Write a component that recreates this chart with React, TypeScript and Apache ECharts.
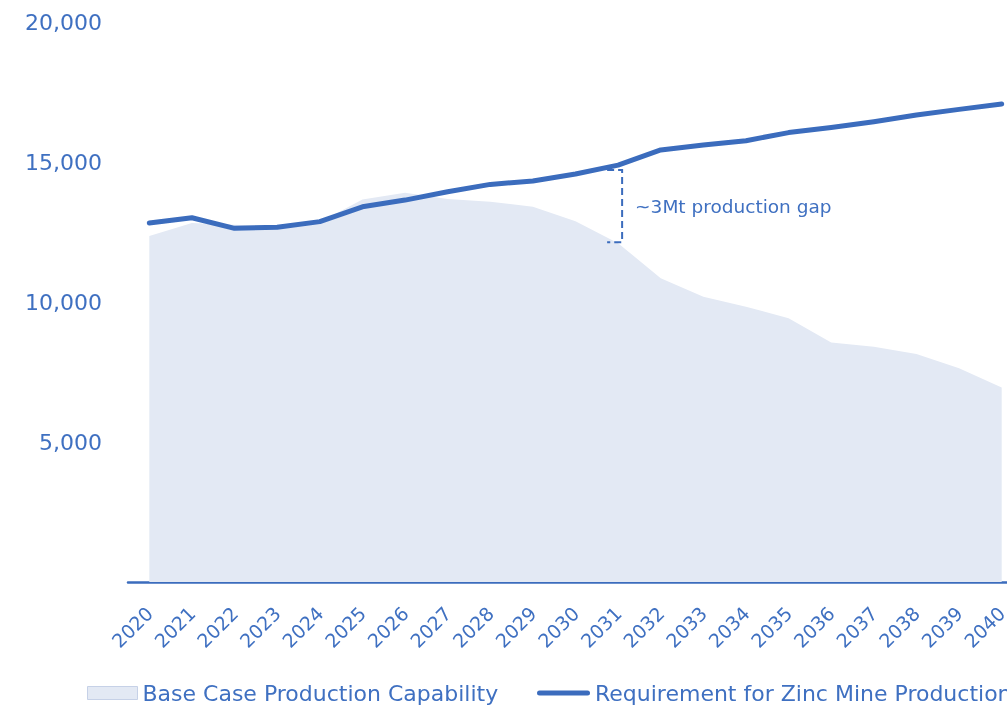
import React, { useEffect, useRef } from "react";
import * as echarts from "echarts";

const years = [
  "2020", "2021", "2022", "2023", "2024", "2025", "2026", "2027", "2028", "2029", "2030",
  "2031", "2032", "2033", "2034", "2035", "2036", "2037", "2038", "2039", "2040",
];
const baseCase = [
  12360, 12820, 12760, 12700, 12850, 13660, 13900, 13680, 13580, 13400, 12880,
  12100, 10850, 10190, 9830, 9420, 8550, 8400, 8140, 7630, 6950,
];
const requirement = [
  12820, 13010, 12630, 12670, 12870, 13400, 13640, 13940, 14200, 14320, 14570,
  14890, 15430, 15610, 15760, 16050, 16230, 16440, 16680, 16880, 17070,
];
const yTicks = [0, 5000, 10000, 15000, 20000];
const seriesNames = ["Base Case Production Capability", "Requirement for Zinc Mine Production"];
const gapLabel = "~3Mt production gap";
const gapYearIndex = 11;

const BLUE = "#3b6cbd";
const LABEL = "#3f70c1";
const AREA = "#e3e9f4";
const FONT = "DejaVu Sans";

export default function App() {
  const ref = useRef<HTMLDivElement>(null);
  useEffect(() => {
    if (!ref.current) return;
    const chart = echarts.init(ref.current, null, { renderer: "svg" });
    chart.setOption({
      animation: false,
      textStyle: { fontFamily: FONT },
      grid: { left: 128, right: 0, top: 22, bottom: 124, containLabel: false },
      xAxis: {
        type: "category",
        data: years,
        boundaryGap: true,
        axisLine: { show: true, lineStyle: { color: BLUE, width: 2.5 } },
        axisTick: { show: false },
        axisLabel: {
          interval: 0,
          rotate: 45,
          margin: 28,
          fontSize: 19,
          color: LABEL,
          fontFamily: FONT,
        },
      },
      yAxis: {
        type: "value",
        min: yTicks[0],
        max: yTicks[yTicks.length - 1],
        interval: yTicks[1] - yTicks[0],
        axisLine: { show: false },
        axisTick: { show: false },
        splitLine: { show: false },
        axisLabel: {
          margin: 26,
          fontSize: 22,
          color: LABEL,
          fontFamily: FONT,
          formatter: (v: number) => (v === 0 ? "" : v.toLocaleString("en-US")),
        },
      },
      legend: [
        {
          left: 87,
          top: 682,
          padding: 0,
          itemWidth: 50,
          itemHeight: 13,
          textStyle: { fontSize: 22, color: LABEL, fontFamily: FONT },
          data: [
            {
              name: seriesNames[0],
              icon: "rect",
              itemStyle: { color: AREA, borderColor: "#c6d1e7", borderWidth: 1 },
            },
          ],
        },
        {
          left: 537,
          top: 682,
          padding: 0,
          itemWidth: 53,
          itemHeight: 13,
          textStyle: { fontSize: 22, color: LABEL, fontFamily: FONT },
          data: [
            {
              name: seriesNames[1],
              icon: "path://M2.5,0 L50.5,0 A2.5,2.5 0 0 1 50.5,5 L2.5,5 A2.5,2.5 0 0 1 2.5,0 Z",
              itemStyle: { color: BLUE },
            },
          ],
        },
      ],
      series: [
        {
          name: seriesNames[0],
          type: "line",
          data: baseCase,
          symbol: "none",
          color: AREA,
          lineStyle: { width: 0, color: AREA },
          areaStyle: { color: AREA, opacity: 1 },
          z: 1,
        },
        {
          name: seriesNames[1],
          type: "line",
          data: requirement,
          symbol: "none",
          color: BLUE,
          lineStyle: { width: 5, color: BLUE, cap: "round", join: "round" },
          z: 3,
        },
      ],
    });

    const top = chart.convertToPixel({ gridIndex: 0 }, [gapYearIndex, requirement[gapYearIndex]]) as number[];
    const bot = chart.convertToPixel({ gridIndex: 0 }, [gapYearIndex, baseCase[gapYearIndex]]) as number[];
    const bx = top[0] + 4;
    const y1 = top[1] + 5;
    const y2 = bot[1] - 1;
    const dash = { stroke: BLUE, lineWidth: 2, lineDash: [7, 4] };
    chart.setOption({
      graphic: [
        {
          type: "polyline",
          shape: { points: [[bx - 15, y1], [bx, y1], [bx, y2], [bx - 15, y2]] },
          style: { ...dash, fill: null },
          z: 10,
        },
        {
          type: "text",
          x: bx + 13,
          y: (y1 + y2) / 2,
          style: {
            text: gapLabel,
            fill: LABEL,
            fontSize: 18.5,
            fontFamily: FONT,
            verticalAlign: "middle",
            align: "left",
          },
          z: 10,
        },
      ],
    });

    return () => chart.dispose();
  }, []);
  return (
    <div style={{ position: "fixed", left: 0, top: 0, width: 1007, height: 706, overflow: "hidden" }}>
      <div ref={ref} style={{ position: "absolute", left: 0, top: 0, width: 1023, height: 706 }} />
    </div>
  );
}
